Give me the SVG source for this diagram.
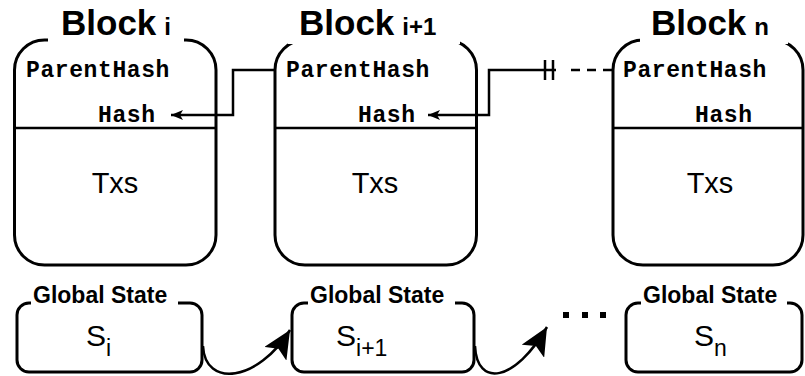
<svg xmlns="http://www.w3.org/2000/svg" width="805" height="376" viewBox="0 0 805 376">
  <defs>
    <style>
      .frame { fill: #fff; stroke: #000; stroke-width: 3; }
      .mask { fill: #fff; stroke: none; }
      .title { font-family: "Liberation Sans", Arial, sans-serif; font-weight: bold; fill: #000; }
      .big { font-size: 35px; }
      .small { font-size: 24px; }
      .mono { font-family: "Liberation Mono", "Courier New", monospace; font-weight: bold; font-size: 23px; letter-spacing: 0.6px; fill: #000; }
      .txs { font-family: "Liberation Sans", Arial, sans-serif; font-size: 29px; fill: #000; text-anchor: middle; }
      .gs { font-family: "Liberation Sans", Arial, sans-serif; font-weight: bold; font-size: 23px; fill: #000; }
      .state { font-family: "Liberation Sans", Arial, sans-serif; font-size: 30px; fill: #000; }
      .sub { font-size: 23px; }
      .link { fill: none; stroke: #000; stroke-width: 2.5; }
      .dash { stroke-dasharray: 9 7; }
    </style>
    <marker id="head" viewBox="0 0 12 10" refX="12" refY="5" markerWidth="12" markerHeight="10" markerUnits="userSpaceOnUse" orient="auto">
      <path d="M0,0 L12,5 L0,10 L3,5 Z" fill="#000"/>
    </marker>
    <marker id="bighead" viewBox="0 0 28 26" refX="28" refY="13" markerWidth="28" markerHeight="26" markerUnits="userSpaceOnUse" orient="auto">
      <path d="M0,0 L28,13 L0,26 L6,13 Z" fill="#000"/>
    </marker>
  </defs>

  <!-- blocks -->
  <g id="block-i">
    <rect class="frame" x="14.5" y="40" width="201.5" height="225" rx="30" ry="30"/>
    <rect class="mask" x="48" y="0" width="136" height="44"/>
    <line x1="14.5" y1="128" x2="216" y2="128" stroke="#000" stroke-width="2.5"/>
    <text class="title" x="61" y="35"><tspan class="big">Block</tspan><tspan class="small" dx="8">i</tspan></text>
    <text class="mono" x="26" y="77">ParentHash</text>
    <text class="mono" x="98" y="122">Hash</text>
    <text class="txs" x="115" y="193">Txs</text>
  </g>

  <g id="block-i1">
    <rect class="frame" x="275" y="40" width="201.5" height="225" rx="30" ry="30"/>
    <rect class="mask" x="288" y="0" width="172" height="44"/>
    <line x1="275" y1="128" x2="476.5" y2="128" stroke="#000" stroke-width="2.5"/>
    <text class="title" x="299" y="35"><tspan class="big">Block</tspan><tspan class="small" dx="8">i+1</tspan></text>
    <text class="mono" x="286" y="77">ParentHash</text>
    <text class="mono" x="358" y="122">Hash</text>
    <text class="txs" x="375" y="193">Txs</text>
  </g>

  <g id="block-n">
    <rect class="frame" x="613" y="40" width="190" height="225" rx="30" ry="30"/>
    <rect class="mask" x="640" y="0" width="148" height="44"/>
    <line x1="613" y1="128" x2="803" y2="128" stroke="#000" stroke-width="2.5"/>
    <text class="title" x="651" y="35"><tspan class="big">Block</tspan><tspan class="small" dx="8">n</tspan></text>
    <text class="mono" x="623" y="77">ParentHash</text>
    <text class="mono" x="695" y="122">Hash</text>
    <text class="txs" x="710" y="193">Txs</text>
  </g>

  <!-- global states -->
  <g id="state-i">
    <rect class="frame" x="17" y="303" width="185" height="69" rx="12" ry="12"/>
    <rect class="mask" x="31" y="290" width="147" height="16"/>
    <text class="gs" x="33" y="303">Global State</text>
    <text class="state" x="86" y="346">S<tspan class="sub" dy="10">i</tspan></text>
  </g>

  <g id="state-i1">
    <rect class="frame" x="292" y="303" width="182" height="69" rx="12" ry="12"/>
    <rect class="mask" x="308" y="290" width="147" height="16"/>
    <text class="gs" x="310" y="303">Global State</text>
    <text class="state" x="336" y="346">S<tspan class="sub" dy="10">i+1</tspan></text>
  </g>

  <g id="state-n">
    <rect class="frame" x="626" y="303" width="176" height="69" rx="12" ry="12"/>
    <rect class="mask" x="641" y="290" width="146" height="16"/>
    <text class="gs" x="643" y="303">Global State</text>
    <text class="state" x="694" y="346">S<tspan class="sub" dy="10">n</tspan></text>
  </g>

  <!-- connectors -->
  <g id="connectors">
    <path class="link" d="M275,70 H233 V115 H171" marker-end="url(#head)"/>
    <path class="link" d="M556,70 H489 V115 H428" marker-end="url(#head)"/>
    <line x1="545" y1="60" x2="545" y2="80" stroke="#000" stroke-width="2.5"/>
    <line x1="553" y1="60" x2="553" y2="80" stroke="#000" stroke-width="2.5"/>
    <path class="link dash" d="M612,70 H566"/>
    <path class="link" d="M203,346 C205,388 258,382 290,330" marker-end="url(#bighead)"/>
    <path class="link" d="M475,346 C477,388 515,382 547,327" marker-end="url(#bighead)"/>
    <rect x="563" y="312" width="6" height="6" fill="#000"/>
    <rect x="582" y="312" width="6" height="6" fill="#000"/>
    <rect x="600" y="312" width="6" height="6" fill="#000"/>
  </g>
</svg>
